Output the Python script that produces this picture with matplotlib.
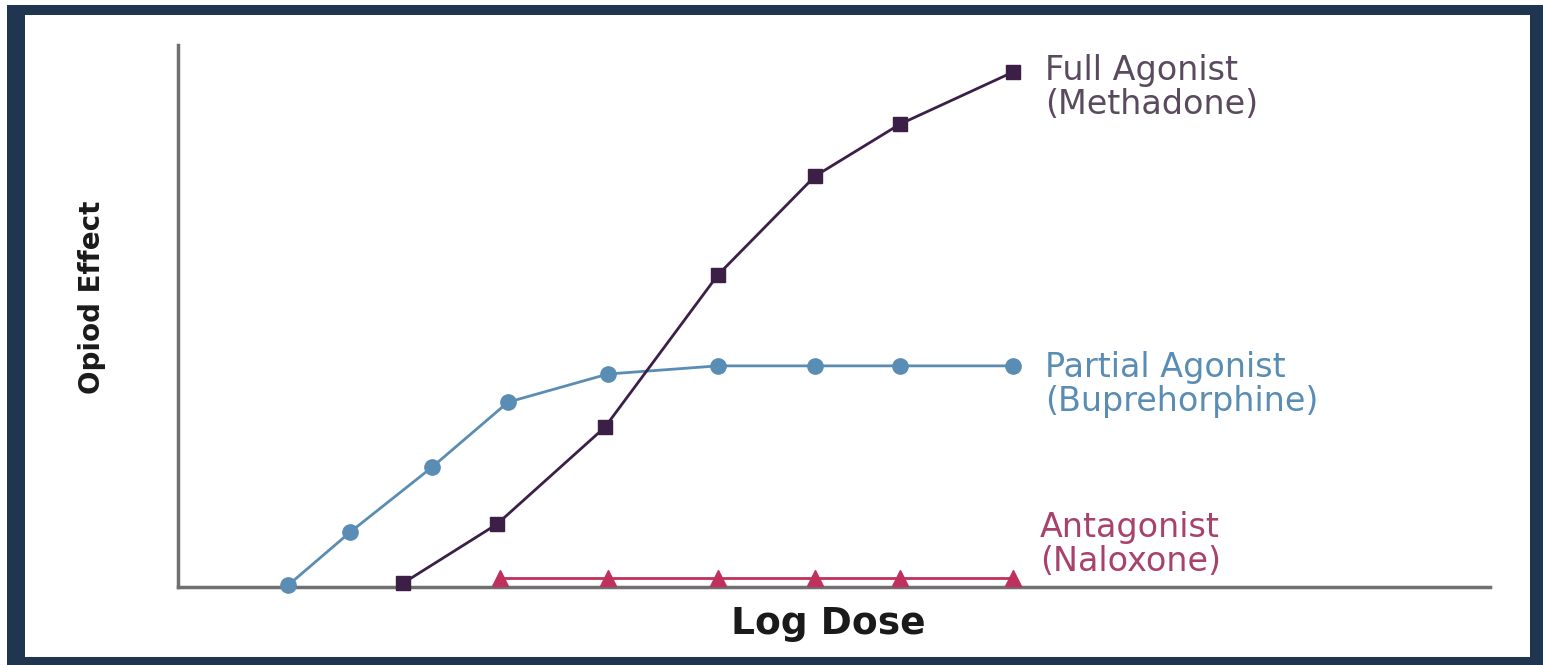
import matplotlib
matplotlib.use("Agg")
import matplotlib.pyplot as plt
from matplotlib.patches import Rectangle

# Data (log dose in arbitrary units, effect in % of max)
full_x = [2.25, 3.19, 4.27, 5.40, 6.37, 7.22, 8.35]
full_y = [0.7, 11.6, 29.5, 57.6, 75.8, 85.4, 95.0]
partial_x = [1.10, 1.72, 2.54, 3.30, 4.30, 5.40, 6.37, 7.22, 8.35]
partial_y = [0.3, 10.1, 22.1, 34.1, 39.3, 40.8, 40.8, 40.8, 40.8]
antag_x = [3.22, 4.30, 5.40, 6.37, 7.22, 8.35]
antag_y = [1.7, 1.7, 1.7, 1.7, 1.7, 1.7]

labels = ["Full Agonist\n(Methadone)", "Partial Agonist\n(Buprehorphine)", "Antagonist\n(Naloxone)"]
xlabel = "Log Dose"
ylabel = "Opiod Effect"

W, H = 1543, 665
fig = plt.figure(figsize=(W / 100, H / 100), dpi=100)
fig.patch.set_facecolor("white")

# navy frame
fig.add_artist(Rectangle((7 / W, 0), (W - 7) / W, (665 - 5) / H,
                         transform=fig.transFigure, facecolor="#1f3550", edgecolor="none", zorder=0))
fig.add_artist(Rectangle((25 / W, (665 - 657) / H), (1530 - 25) / W, (657 - 15) / H,
                         transform=fig.transFigure, facecolor="white", edgecolor="none", zorder=0))

ax = fig.add_axes([178 / W, 1 - 587 / H, (1490 - 178) / W, (587 - 45) / H])
ax.set_facecolor("none")
ax.set_xlim(0, 13.12)
ax.set_ylim(0, 100)

c_full = "#3b1f47"
c_part = "#5a8db3"
c_ant = "#c0305c"

ax.plot(antag_x, antag_y, color=c_ant, lw=2, marker="^", ms=11, clip_on=False, zorder=3)
ax.plot(partial_x, partial_y, color=c_part, lw=2, marker="o", ms=11, clip_on=False, zorder=4)
ax.plot(full_x, full_y, color=c_full, lw=2, marker="s", ms=10, clip_on=False, zorder=5)

for s in ["top", "right"]:
    ax.spines[s].set_visible(False)
for s in ["left", "bottom"]:
    ax.spines[s].set_color("#707070")
    ax.spines[s].set_linewidth(2.5)
ax.set_xticks([])
ax.set_yticks([])

tx = 8.67
kw = dict(fontsize=24, va="center", ha="left", linespacing=1.05, family="DejaVu Sans")
ax.text(tx, 92.1, labels[0], color="#5a4a5e", **kw)
ax.text(tx, 37.3, labels[1], color=c_part, **kw)
ax.text(tx - 0.05, 7.9, labels[2], color="#a8426c", **kw)

fig.text(828 / W, 1 - 624 / H, xlabel, fontsize=27, fontweight="bold", ha="center", va="center",
         color="#1a1a1a", family="DejaVu Sans")
fig.text(92 / W, 1 - 297 / H, ylabel, fontsize=20, fontweight="bold", ha="center", va="center",
         rotation=90, color="#1a1a1a", family="DejaVu Sans")

fig.savefig("out.png", dpi=100, facecolor="white")
